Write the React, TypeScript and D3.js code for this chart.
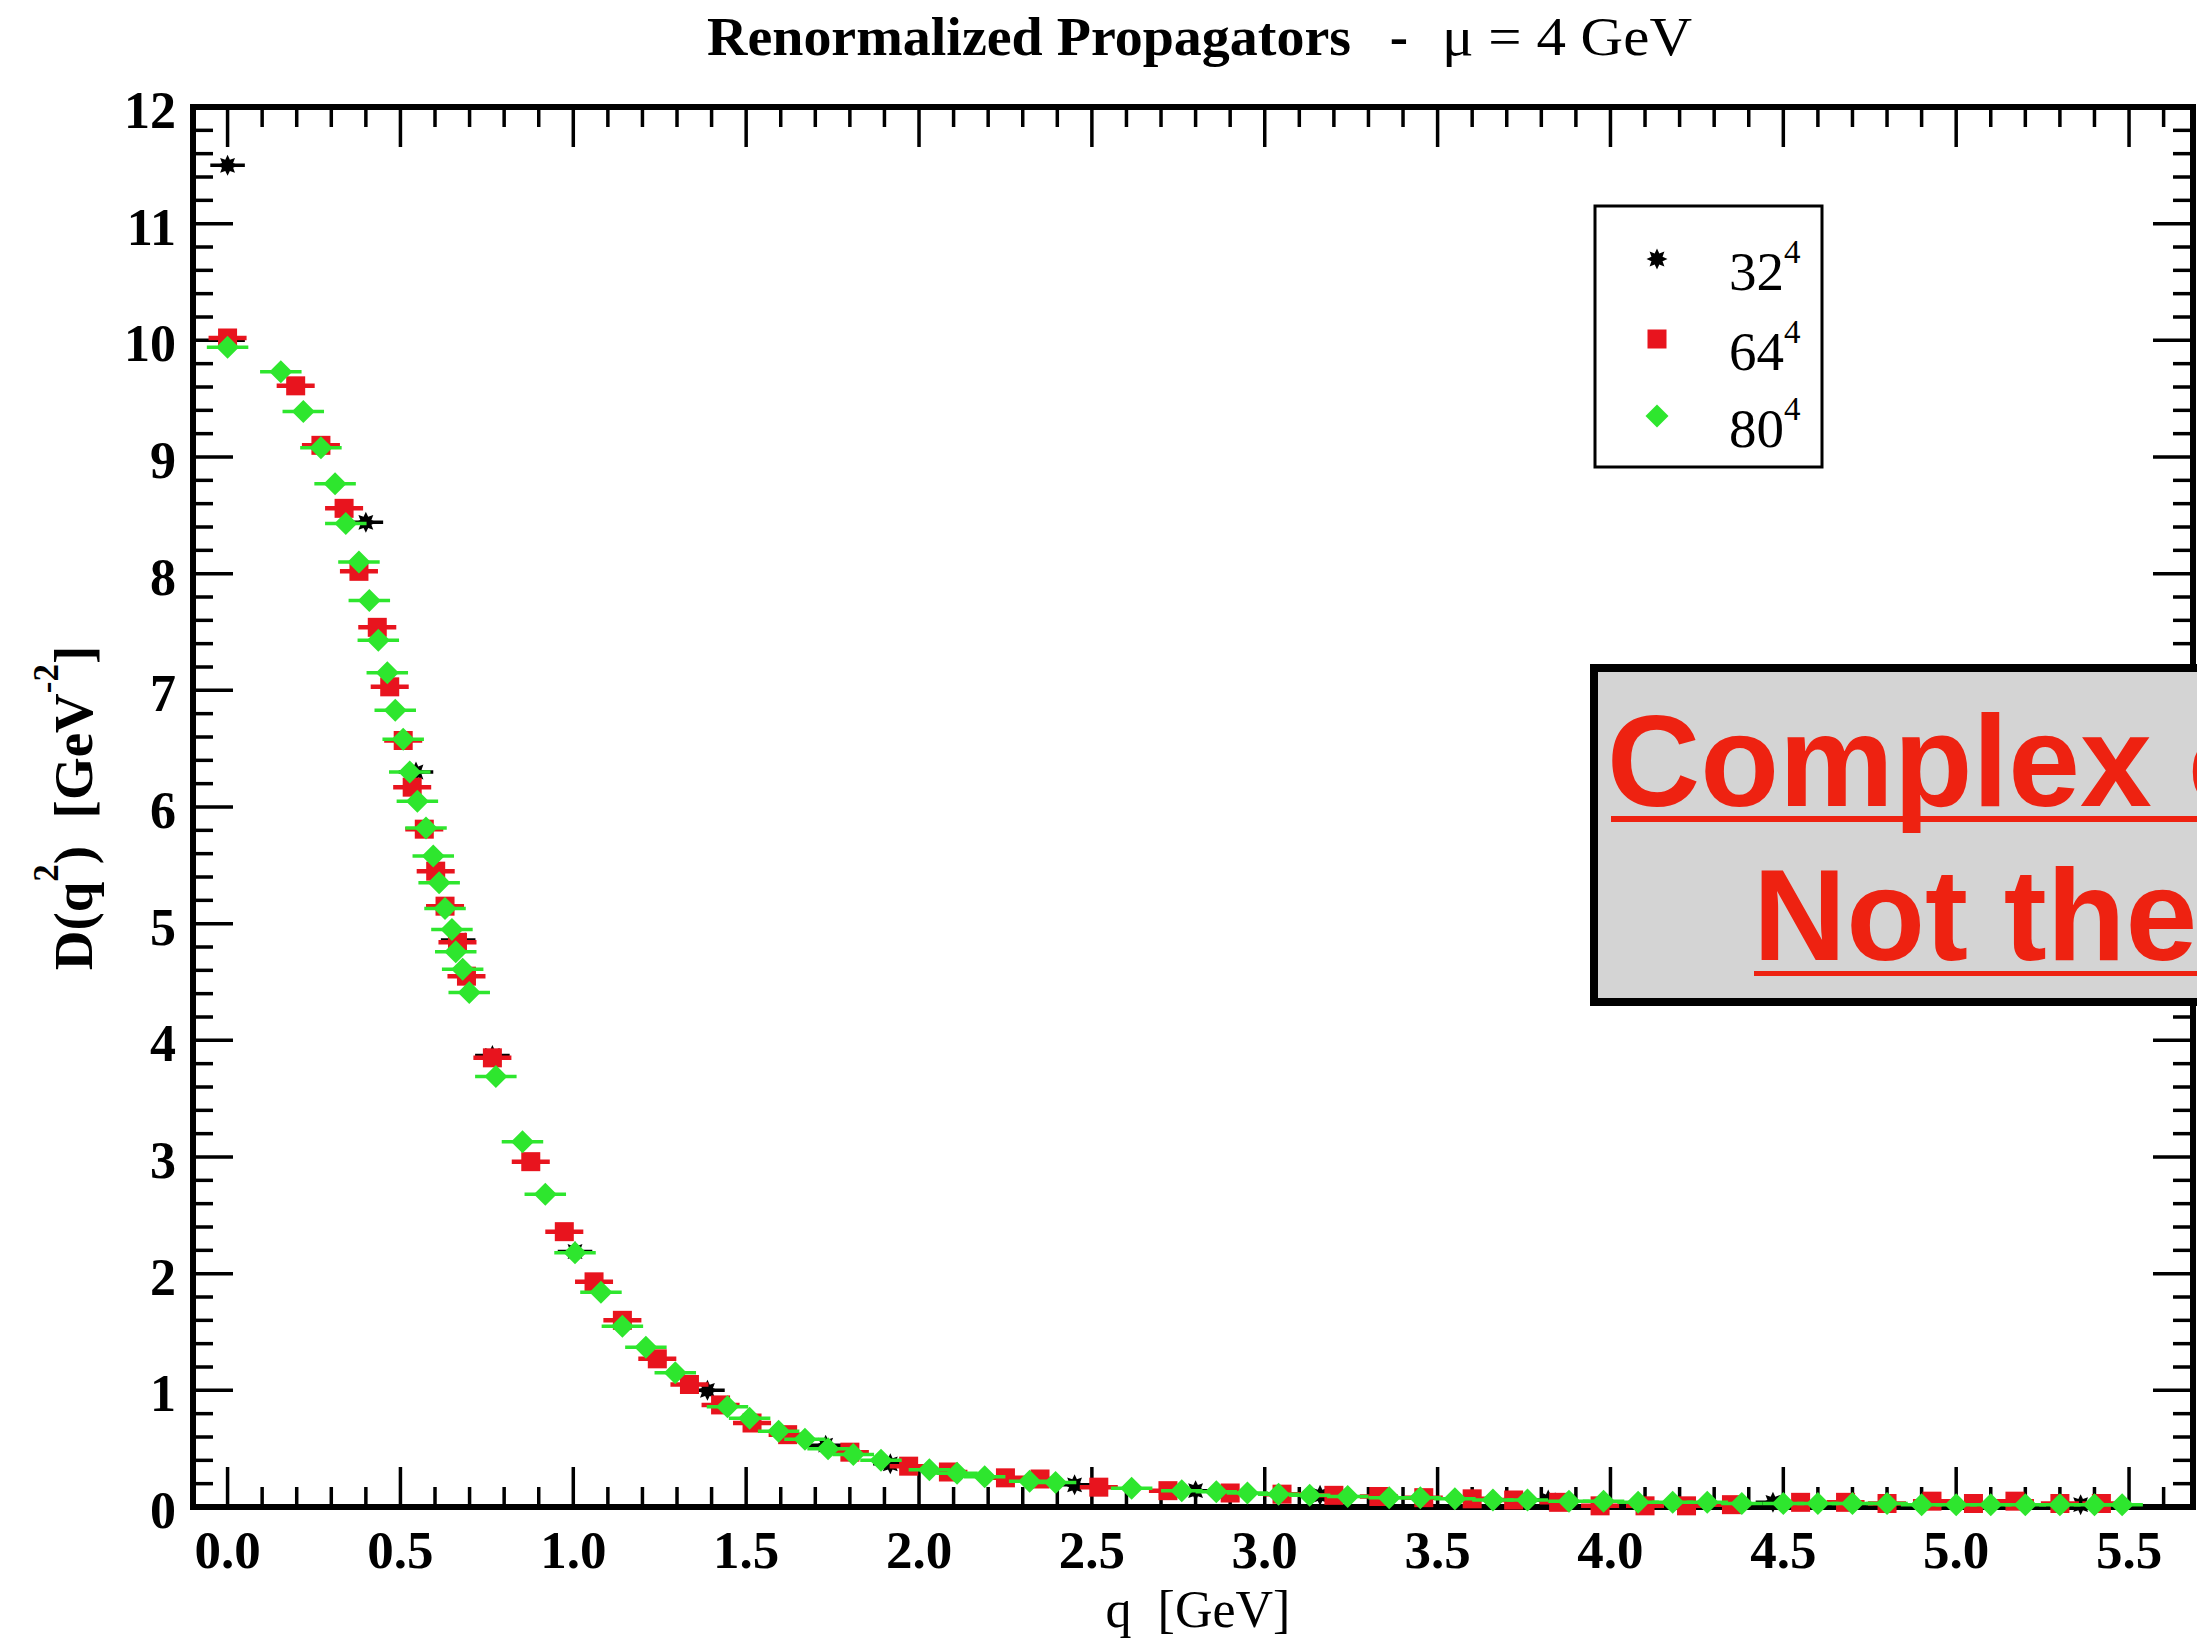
import React, { useEffect } from "react";
import * as d3 from "d3";

const W = 2197;
const H = 1645;

// ---------- text ----------
const titleMain = "Renormalized Propagators";
const titleDash = "-";
const titleMu = "\u03BC = 4 GeV";
const xLabel = "q  [GeV]";
const legendBase = ["32", "64", "80"];
const legendExp = "4";
const boxLine1 = "Complex conjugate";
const boxLine2 = "Not the";

// ---------- ticks ----------
const xMajorTicks = [0, 0.5, 1.0, 1.5, 2.0, 2.5, 3.0, 3.5, 4.0, 4.5, 5.0, 5.5];
const yMajorTicks = [0, 1, 2, 3, 4, 5, 6, 7, 8, 9, 10, 11, 12];

// ---------- data: 32^4 (black stars) ----------
const q32 = [0.0, 0.0, 0.40, 0.545, 0.667, 0.766, 1.005, 1.388, 1.73, 1.917, 2.45, 2.80, 3.16, 3.82, 4.47, 5.36];
const d32 = [11.50, 10.00, 8.44, 6.30, 4.86, 3.87, 2.19, 1.00, 0.53, 0.37, 0.19, 0.14, 0.10, 0.06, 0.04, 0.02];

// ---------- data: 64^4 (red squares) ----------
const q64 = [0.0, 0.197, 0.27, 0.337, 0.38, 0.433, 0.469, 0.508, 0.534, 0.569,
  0.602, 0.629, 0.665, 0.691, 0.766, 0.877, 0.974, 1.06, 1.142, 1.243,
  1.336, 1.426, 1.517, 1.62, 1.80, 1.97, 2.085, 2.25, 2.35, 2.52,
  2.72, 2.90, 3.05, 3.20, 3.33, 3.46, 3.60, 3.72, 3.85, 3.97,
  4.10, 4.22, 4.35, 4.55, 4.68, 4.80, 4.93, 5.05, 5.17, 5.30, 5.42];
const d64 = [10.02, 9.61, 9.10, 8.56, 8.02, 7.54, 7.03, 6.57, 6.17, 5.81,
  5.45, 5.15, 4.84, 4.55, 3.85, 2.96, 2.36, 1.93, 1.60, 1.27,
  1.05, 0.875, 0.72, 0.62, 0.47, 0.35, 0.30, 0.25, 0.24, 0.17,
  0.14, 0.12, 0.11, 0.10, 0.09, 0.08, 0.07, 0.06, 0.04, 0.01,
  0.01, 0.01, 0.02, 0.04, 0.04, 0.03, 0.05, 0.03, 0.05, 0.03, 0.03];

// ---------- data: 80^4 (green diamonds) ----------
const q80 = [0.0, 0.154, 0.219, 0.27, 0.311, 0.342, 0.38, 0.41, 0.436, 0.462,
  0.485, 0.508, 0.527, 0.549, 0.574, 0.595, 0.612, 0.629, 0.649, 0.66,
  0.68, 0.699, 0.776, 0.853, 0.919, 1.005, 1.08, 1.142, 1.21, 1.295,
  1.446, 1.51, 1.594, 1.67, 1.737, 1.81, 1.89, 2.03, 2.11, 2.19,
  2.32, 2.395, 2.615, 2.76, 2.86, 2.95, 3.04, 3.13, 3.24, 3.36,
  3.45, 3.55, 3.66, 3.76, 3.88, 3.98, 4.08, 4.18, 4.28, 4.38,
  4.50, 4.60, 4.70, 4.80, 4.90, 5.00, 5.10, 5.20, 5.30, 5.40, 5.48];
const d80 = [9.94, 9.73, 9.39, 9.08, 8.77, 8.43, 8.10, 7.77, 7.43, 7.15,
  6.83, 6.58, 6.30, 6.05, 5.82, 5.58, 5.35, 5.13, 4.95, 4.76,
  4.61, 4.41, 3.69, 3.13, 2.68, 2.18, 1.84, 1.55, 1.37, 1.15,
  0.86, 0.76, 0.65, 0.58, 0.50, 0.45, 0.40, 0.32, 0.29, 0.26,
  0.22, 0.21, 0.16, 0.14, 0.13, 0.12, 0.11, 0.10, 0.09, 0.08,
  0.08, 0.07, 0.06, 0.06, 0.05, 0.05, 0.04, 0.04, 0.04, 0.03,
  0.03, 0.03, 0.03, 0.03, 0.02, 0.02, 0.02, 0.02, 0.02, 0.02, 0.02];

// error half-widths
const errQ32 = 0.05, errD32 = 0.05;
const errQ64 = 0.055, errD64 = 0.05;
const errQ80 = 0.06, errD80 = 0.05;

const RED = "#e8141e";
const GREEN = "#2ee62e";
const BLACK = "#000";
const SERIF = "'Liberation Serif', 'Times New Roman', serif";
const SANS = "'Liberation Sans', Arial, sans-serif";

const starPath = (() => {
  const pts = d3.range(16).map((i) => {
    const r = i % 2 === 0 ? 10.5 : 6;
    const a = (i * Math.PI) / 8 - Math.PI / 2;
    return [r * Math.cos(a), r * Math.sin(a)] as [number, number];
  });
  return d3.line()(pts) + "Z";
})();
const diamondPath = "M0,-11.5L11.5,0L0,11.5L-11.5,0Z";

function Marker({ kind, cx, cy }: { kind: string; cx: number; cy: number }) {
  if (kind === "square")
    return <rect x={cx - 9.5} y={cy - 9.5} width={19} height={19} fill={RED} />;
  if (kind === "diamond")
    return <path d={diamondPath} transform={`translate(${cx},${cy})`} fill={GREEN} />;
  return <path d={starPath} transform={`translate(${cx},${cy})`} fill={BLACK} />;
}

export default function App() {
  useEffect(() => {
    document.body.style.margin = "0";
    document.body.style.overflow = "hidden";
  }, []);

  const x = d3.scaleLinear().domain([-0.1, 5.685]).range([193, 2193]);
  const y = d3.scaleLinear().domain([0, 12]).range([1507, 107]);

  const [x0, x1] = x.range();
  const [yb, yt] = y.range();

  const xMinor = d3.range(1, 57).map((i) => i / 10).filter((v) => Math.round(v * 10) % 5 !== 0);
  const yMinor = d3.range(1, 60).map((i) => i / 5).filter((v) => Math.round(v * 5) % 5 !== 0);

  const MAJ = 40, MIN = 20;

  const series = [
    { q: q32, d: d32, eq: errQ32, ed: errD32, color: BLACK, kind: "star", sw: 3.5 },
    { q: q64, d: d64, eq: errQ64, ed: errD64, color: RED, kind: "square", sw: 4.5 },
    { q: q80, d: d80, eq: errQ80, ed: errD80, color: GREEN, kind: "diamond", sw: 3.5 },
  ];

  const legendY = [259, 339, 416];
  const legendKinds = ["star", "square", "diamond"];

  return (
    <svg width={W} height={H} style={{ display: "block", background: "#fff" }}>
      <rect x={0} y={0} width={W} height={H} fill="#fff" />

      {/* title */}
      <text x={707} y={55} fontFamily={SERIF} fontWeight="bold" fontSize={55}
        textLength={644} lengthAdjust="spacingAndGlyphs">{titleMain}</text>
      <text x={1399} y={55} fontFamily={SERIF} fontWeight="bold" fontSize={55} textAnchor="middle">{titleDash}</text>
      <text x={1442} y={55} fontFamily={SERIF} fontSize={55}
        textLength={250} lengthAdjust="spacingAndGlyphs">{titleMu}</text>

      {/* frame */}
      <rect x={x0} y={yt} width={x1 - x0} height={yb - yt} fill="none" stroke="#000" strokeWidth={6} />

      {/* ticks */}
      <g stroke="#000" strokeWidth={3.5}>
        {xMajorTicks.map((v) => (
          <g key={"xM" + v}>
            <line x1={x(v)} x2={x(v)} y1={yb} y2={yb - MAJ} />
            <line x1={x(v)} x2={x(v)} y1={yt} y2={yt + MAJ} />
          </g>
        ))}
        {xMinor.map((v) => (
          <g key={"xm" + v}>
            <line x1={x(v)} x2={x(v)} y1={yb} y2={yb - MIN} />
            <line x1={x(v)} x2={x(v)} y1={yt} y2={yt + MIN} />
          </g>
        ))}
        {yMajorTicks.map((v) => (
          <g key={"yM" + v}>
            <line x1={x0} x2={x0 + MAJ} y1={y(v)} y2={y(v)} />
            <line x1={x1} x2={x1 - MAJ} y1={y(v)} y2={y(v)} />
          </g>
        ))}
        {yMinor.map((v) => (
          <g key={"ym" + v}>
            <line x1={x0} x2={x0 + MIN} y1={y(v)} y2={y(v)} />
            <line x1={x1} x2={x1 - MIN} y1={y(v)} y2={y(v)} />
          </g>
        ))}
      </g>

      {/* tick labels */}
      {xMajorTicks.map((v) => (
        <text key={"xl" + v} x={x(v)} y={1568} textAnchor="middle" fontFamily={SERIF}
          fontWeight="bold" fontSize={53}>{v.toFixed(1)}</text>
      ))}
      {yMajorTicks.map((v) => (
        <text key={"yl" + v} x={176} y={y(v) + 21} textAnchor="end" fontFamily={SERIF}
          fontWeight="bold" fontSize={52}>{String(v)}</text>
      ))}

      {/* axis labels */}
      <text x={1198} y={1627} textAnchor="middle" fontFamily={SERIF} fontSize={52}
        style={{ whiteSpace: "pre" }}>{xLabel}</text>
      <text transform="translate(92,808) rotate(-90)" textAnchor="middle" fontFamily={SERIF}
        fontWeight="bold" fontSize={55} style={{ whiteSpace: "pre" }}>
        D(q<tspan dy={-34} fontSize={35}>2</tspan><tspan dy={34}>{")  [GeV"}</tspan>
        <tspan dy={-34} fontSize={35}>-2</tspan><tspan dy={34}>]</tspan>
      </text>

      {/* data */}
      {series.map((s, si) => (
        <g key={"s" + si}>
          {s.q.map((qv, i) => {
            const cx = x(qv), cy = y(s.d[i]);
            return (
              <g key={i}>
                <line x1={x(qv - s.eq)} x2={x(qv + s.eq)} y1={cy} y2={cy} stroke={s.color} strokeWidth={s.sw} />
                <line x1={cx} x2={cx} y1={y(s.d[i] - s.ed)} y2={y(s.d[i] + s.ed)} stroke={s.color} strokeWidth={s.sw} />
                <Marker kind={s.kind} cx={cx} cy={cy} />
              </g>
            );
          })}
        </g>
      ))}

      {/* legend */}
      <rect x={1595} y={206} width={227} height={261} fill="#fff" stroke="#000" strokeWidth={3} />
      {legendBase.map((t, i) => (
        <g key={"lg" + i}>
          <Marker kind={legendKinds[i]} cx={1657} cy={legendY[i]} />
          <text x={1729} y={legendY[i] + 31} fontFamily={SERIF} fontSize={55}>
            {t}<tspan dy={-27} fontSize={33}>{legendExp}</tspan>
          </text>
        </g>
      ))}

      {/* annotation box (cut by the right edge, as in the reference) */}
      <rect x={1594} y={668} width={700} height={334} fill="#d4d4d4" stroke="#000" strokeWidth={8} />
      <text x={1607} y={806} fontFamily={SANS} fontWeight="bold" fontSize={129} fill="#ee2211"
        style={{ whiteSpace: "pre" }}>{boxLine1}</text>
      <rect x={1611} y={816} width={700} height={6} fill="#ee2211" />
      <text x={1753} y={960} fontFamily={SANS} fontWeight="bold" fontSize={129} fill="#ee2211"
        style={{ whiteSpace: "pre" }}>{boxLine2}</text>
      <rect x={1754} y={971} width={700} height={5} fill="#ee2211" />
    </svg>
  );
}
